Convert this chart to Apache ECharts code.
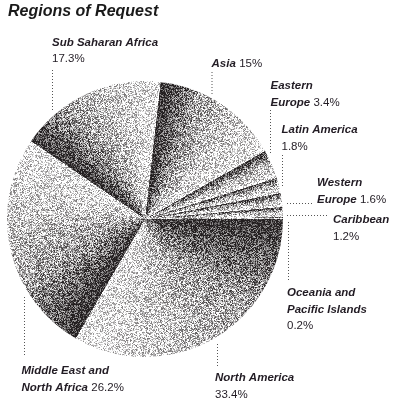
<!DOCTYPE html>
<html>
<head>
<meta charset="utf-8">
<script src="https://cdn.jsdelivr.net/npm/echarts@6/dist/echarts.min.js"></script>
<style>
html,body{margin:0;padding:0;background:#fff;}
#chart{width:393px;height:400px;}
</style>
</head>
<body>
<div id="chart"></div>
<script>
// ---- data (clockwise order) ----
const categories = ['Asia', 'Eastern Europe', 'Latin America', 'Western Europe', 'Caribbean',
  'Oceania and Pacific Islands', 'North America', 'Middle East and North Africa', 'Sub Saharan Africa'];
const shares = [15, 3.4, 1.8, 1.6, 1.2, 0.2, 33.4, 26.2, 17.3];
const labelTexts = ['Asia', 'Eastern\nEurope', 'Latin America', 'Western\nEurope', 'Caribbean',
  'Oceania and\nPacific Islands', 'North America', 'Middle East and\nNorth Africa', 'Sub Saharan Africa'];
const valueOnNewLine = [false, false, true, false, true, true, true, false, true];

// ---- layout / style (not data) ----
const W = 393, H = 400;
const CX = 145, CY = 219, R = 138, START = 83.5;
const DARK = [35, 31, 32];
const TEXT = '#221c24';
const FONT = '"Liberation Sans", Arial, sans-serif';
const labelPos = [
  {x: 211.5, y: 55.5, line: [[212, 72], [212, 95]]},
  {x: 270.5, y: 78, line: [[270.5, 110], [270.5, 153]]},
  {x: 281.5, y: 122, line: [[282.5, 155], [282.5, 186]]},
  {x: 317, y: 175, line: [[287, 203.5], [312, 203.5]]},
  {x: 333, y: 212, line: [[287, 215.5], [329, 215.5]]},
  {x: 287, y: 285, line: [[288.5, 222], [288.5, 281]]},
  {x: 215, y: 370, line: [[217.5, 344], [217.5, 367]]},
  {x: 21.5, y: 363, line: [[24.5, 297], [24.5, 357]]},
  {x: 52, y: 34.5, line: [[52.5, 70], [52.5, 112]]}
];

function hash(x, y) {
  let n = (Math.imul(x, 374761393) + Math.imul(y, 668265263)) | 0;
  n = Math.imul(n ^ (n >>> 13), 1274126177);
  n = n ^ (n >>> 16);
  return (n >>> 0) / 4294967296;
}

// stippled angular-gradient texture: each slice dark at its leading edge, fading clockwise
function buildTexture(values) {
  const c = document.createElement('canvas');
  c.width = W; c.height = H;
  const ctx = c.getContext('2d');
  const img = ctx.createImageData(W, H);
  const total = values.reduce((a, b) => a + b, 0);
  const bounds = [];
  let acc = 0;
  values.forEach(v => { bounds.push([acc / total * 360, (acc + v) / total * 360]); acc += v; });
  const a0 = 90 - START;
  for (let y = 0; y < H; y++) {
    for (let x = 0; x < W; x++) {
      const dx = x + 0.5 - CX, dy = y + 0.5 - CY;
      const r = Math.sqrt(dx * dx + dy * dy);
      const a = Math.atan2(dx, -dy) * 180 / Math.PI;
      const rel = ((a - a0) % 360 + 360) % 360;
      let i = 0;
      while (i < bounds.length - 1 && rel >= bounds[i][1]) i++;
      const t = Math.min(1, Math.max(0, (rel - bounds[i][0]) / (bounds[i][1] - bounds[i][0])));
      const rn = Math.min(1, r / R);
      let d = 0.05 + 0.95 * Math.pow(1 - t, 1.35);
      d *= 1 - 0.35 * rn * Math.min(1, t * 3);
      const h = hash(x, y);
      let v = d + (h - 0.5) * 1.0;
      v = Math.max(0, Math.min(1, v));
      const k = (y * W + x) * 4;
      img.data[k] = Math.round(255 * (1 - v) + DARK[0] * v);
      img.data[k + 1] = Math.round(255 * (1 - v) + DARK[1] * v);
      img.data[k + 2] = Math.round(255 * (1 - v) + DARK[2] * v);
      img.data[k + 3] = 255;
    }
  }
  ctx.putImageData(img, 0, 0);
  return c;
}

const tex = buildTexture(shares);
const chart = echarts.init(document.getElementById('chart'), null, {renderer: 'canvas'});

const base = {fontFamily: FONT, fontSize: 11.5, lineHeight: 16.5, color: TEXT};
chart.setOption({
  animation: false,
  title: {
    text: 'Regions of Request',
    left: 3, top: -1,
    textStyle: {fontFamily: FONT, fontStyle: 'italic', fontWeight: 'bold', fontSize: 16, color: '#1a1a1a'}
  },
  series: [{
    type: 'pie',
    center: [CX, CY],
    radius: [0, R],
    startAngle: START,
    clockwise: true,
    avoidLabelOverlap: false,
    itemStyle: {borderWidth: 0, color: {image: tex, repeat: 'no-repeat'}},
    emphasis: {disabled: true},
    data: categories.map((n, i) => ({name: n, value: shares[i]})),
    label: {
      show: true,
      position: 'outside',
      formatter: function (p) {
        const lines = labelTexts[p.dataIndex].split('\n').map(s => '{n|' + s + '}');
        const val = '{v|' + shares[p.dataIndex] + '%}';
        if (valueOnNewLine[p.dataIndex]) return lines.join('\n') + '\n' + val;
        lines[lines.length - 1] += ' ' + val;
        return lines.join('\n');
      },
      rich: {
        n: Object.assign({}, base, {fontStyle: 'italic', fontWeight: 'bold'}),
        v: Object.assign({}, base, {fontWeight: 'normal'})
      }
    },
    labelLine: {
      show: true,
      smooth: false,
      lineStyle: {color: '#555', width: 1, type: [1, 2]}
    },
    labelLayout: function (p) {
      const L = labelPos[p.dataIndex];
      return {x: L.x, y: L.y, align: 'left', verticalAlign: 'top', labelLinePoints: L.line};
    }
  }]
});
</script>
</body>
</html>
